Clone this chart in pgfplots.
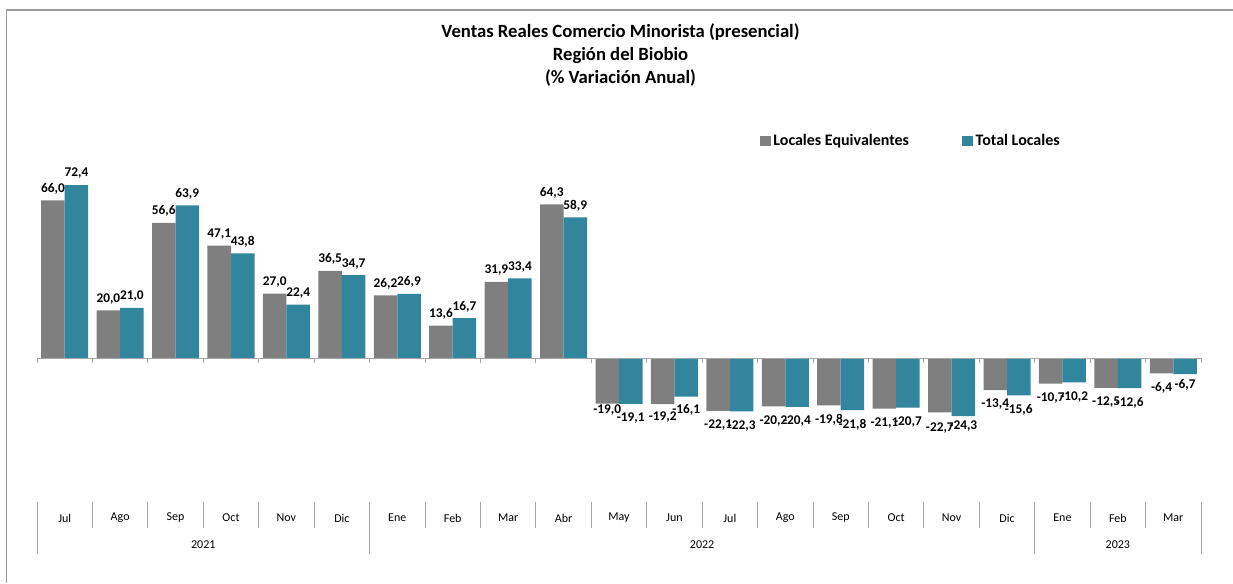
\documentclass[border=0pt]{standalone}
\usepackage{pgfplots}
\pgfplotsset{compat=1.18}
\usepackage{pgfplotstable}
\usepackage{fontspec}
\setmainfont{Carlito}
\definecolor{bargray}{HTML}{7F7F7F}
\definecolor{barteal}{HTML}{31859C}
\definecolor{sepgray}{HTML}{A6A6A6}
\definecolor{framegray}{HTML}{9A9A9A}

\pgfplotstableread{
x le tl dl dt
0 66.0 72.4 0 0
1 20.0 21.0 0 0
2 56.6 63.9 0 0
3 47.1 43.8 0 0
4 27.0 22.4 0 0
5 36.5 34.7 0 0
6 26.2 26.9 0 0
7 13.6 16.7 0 0
8 31.9 33.4 0 0
9 64.3 58.9 0 0
10 -19.0 -19.1 6 0
11 -19.2 -16.1 1 1
12 -22.1 -22.3 0 0
13 -20.2 -20.4 0 0
14 -19.8 -21.8 0 0
15 -21.1 -20.7 0 0
16 -22.7 -24.3 -1 3
17 -13.4 -15.6 0 0
18 -10.7 -10.2 0 0
19 -12.5 -12.6 0 0
20 -6.4 -6.7 0 3
}\datatable

\begin{document}
\begin{tikzpicture}
\path[use as bounding box] (0,0) rectangle (924.75pt,437.25pt);
\draw[framegray, line width=0.9pt] (4.9pt,0) -- (4.9pt,429.75pt) -- (924.75pt,429.75pt);
\node[font=\fontsize{14}{17.6}\selectfont\bfseries, align=center] at (465.4pt,396pt)
  {Ventas Reales Comercio Minorista (presencial)\\Región del Biobio\\(\% Variación Anual)};
\begin{axis}[
  at={(27.75pt,61.1pt)}, anchor=south west,
  scale only axis, width=873pt, height=277.9pt,
  xmin=-0.5, xmax=20.5, ymin=-60, ymax=95,
  axis line style={draw=none},
  ytick=\empty,
  xtick={0,...,20},
  xtick style={draw=none},
  major tick length=0pt,
  xticklabels={Jul,Ago,Sep,Oct,Nov,Dic,Ene,Feb,Mar,Abr,May,Jun,Jul,Ago,Sep,Oct,Nov,Dic,Ene,Feb,Mar},
  xticklabel style={font=\fontsize{9}{11}\selectfont, anchor=center, yshift=-12.4pt},
  ybar, bar width=0.424,
  nodes near coords={\pgfmathprintnumber[fixed,fixed zerofill,precision=1,use comma,assume math mode=true]{\pgfplotspointmeta}},
  nodes near coords style={font=\fontsize{10}{12}\selectfont\bfseries, text=black,
    yshift={ifthenelse(\rawy<0,-3.2,1.2)+\dyoff}},
  legend columns=2,
  legend style={at={(0.6175,0.973)}, anchor=west, draw=none, fill=none,
    font=\fontsize{12}{14}\selectfont\bfseries,
    /tikz/every even column/.append style={column sep=38pt}},
  sqlegend/.style={legend image code/.code={\draw[##1,draw=none] (0pt,-4pt) rectangle (8pt,4pt);}},
  clip=false,
]
\addplot[fill=bargray, draw=none, bar shift=-0.212, sqlegend,
  visualization depends on={y \as \rawy},
  visualization depends on={\thisrow{dl} \as \dyoff}] table[x=x,y=le]{\datatable};
\addplot[fill=barteal, draw=none, bar shift=0.212, sqlegend,
  visualization depends on={y \as \rawy},
  visualization depends on={\thisrow{dt} \as \dyoff}] table[x=x,y=tl]{\datatable};
\legend{Locales Equivalentes, Total Locales}
\draw[sepgray, line width=0.7pt] (axis cs:-0.5,0) -- (axis cs:20.5,0);
\pgfplotsinvokeforeach{-0.5,0.5,...,20.5}{
  \draw[sepgray, line width=0.7pt] (axis cs:#1,0) -- ++(0pt,-3.75pt);
  \draw[sepgray, line width=0.7pt] (axis cs:#1,-60) -- ++(0pt,-19.5pt);
}
\pgfplotsinvokeforeach{-0.5,5.5,17.5,20.5}{
  \draw[sepgray, line width=0.7pt] (axis cs:#1,-60) -- ++(0pt,-39pt);
}
\node[font=\fontsize{9}{11}\selectfont] at ([yshift=-32.6pt]axis cs:2.5,-60) {2021};
\node[font=\fontsize{9}{11}\selectfont] at ([yshift=-32.6pt]axis cs:11.5,-60) {2022};
\node[font=\fontsize{9}{11}\selectfont] at ([yshift=-32.6pt]axis cs:19,-60) {2023};
\end{axis}
\end{tikzpicture}
\end{document}
